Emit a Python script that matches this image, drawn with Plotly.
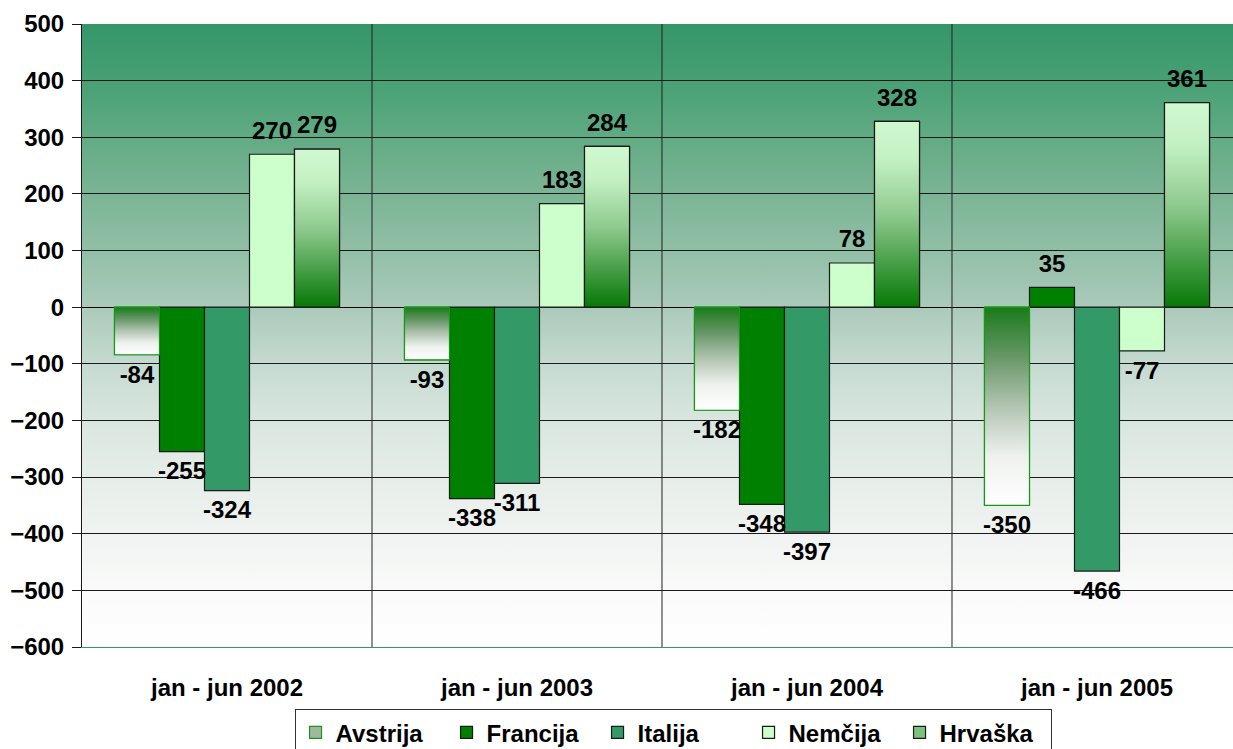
import base64
import plotly.graph_objects as go

# ---------------- data ----------------
categories = ["jan - jun 2002", "jan - jun 2003", "jan - jun 2004", "jan - jun 2005"]
series_names = ["Avstrija", "Francija", "Italija", "Nemčija", "Hrvaška"]
avstrija = [-84, -93, -182, -350]
francija = [-255, -338, -348, 35]
italija = [-324, -311, -397, -466]
nemcija = [270, 183, 78, -77]
hrvaska = [279, 284, 328, 361]
y_ticks = list(range(-600, 501, 100))

# ---------------- styles ----------------
FONT = "Liberation Sans, Arial, sans-serif"
FS = 24
GROUP = 0.776
BW = GROUP / 5
series_values = [avstrija, francija, italija, nemcija, hrvaska]
solid_colors = ["#9fb89f", "#008000", "#339966", "#CCFFCC", "#7cc27c"]
line_colors = ["#179917", "#1a1a1a", "#1a1a1a", "#1a1a1a", "#1a1a1a"]
gradients = {
    0: [[0, "#ffffff"], [0.25, "#eef1ee"], [0.5, "#b2c4b2"], [0.75, "#679767"], [1, "#1a7a1a"]],
    4: [[0, "#067806"], [0.5, "#8fca8f"], [0.8, "#c4f1c4"], [1, "#cff9cf"]],
}

# background gradient (plot area), value -> colour
bg_stops = [(500, "#35966A"), (400, "#47A073"), (300, "#62AB84"), (200, "#7BB495"),
            (100, "#91BFA6"), (0, "#ABCABB"), (-100, "#C5DAD0"), (-200, "#D9E6E0"),
            (-300, "#E6EDE9"), (-400, "#F0F3F1"), (-500, "#F9FAF9"), (-600, "#FFFFFF")]
stops_svg = "".join(
    f'<stop offset="{(500 - v) / 1100:.4f}" stop-color="{c}"/>' for v, c in bg_stops)
svg = ('<svg xmlns="http://www.w3.org/2000/svg" width="100" height="100" preserveAspectRatio="none">'
       '<defs><linearGradient id="g" x1="0" y1="0" x2="0" y2="1">' + stops_svg +
       '</linearGradient></defs><rect width="100" height="100" fill="url(#g)"/></svg>')
bg_uri = "data:image/svg+xml;base64," + base64.b64encode(svg.encode()).decode()

fig = go.Figure()
xs = list(range(len(categories)))

label_traces = []
for k, (name, vals) in enumerate(zip(series_names, series_values)):
    offset = -GROUP / 2 + k * BW
    fig.add_trace(go.Bar(
        x=xs, y=vals, name=name, width=BW, offset=offset,
        marker=dict(color=solid_colors[k], line=dict(color=line_colors[k], width=1.2)),
        legendrank=k + 1, hoverinfo="skip",
    ))
    if k in gradients:
        for i, v in zip(xs, vals):
            x0 = i + offset
            x1 = x0 + BW
            fig.add_trace(go.Scatter(
                x=[x0, x1, x1, x0, x0], y=[0, 0, v, v, 0],
                mode="lines", fill="toself",
                fillgradient=dict(type="vertical", colorscale=gradients[k],
                                  start=min(0, v), stop=max(0, v)),
                line=dict(color=line_colors[k], width=1.2),
                showlegend=False, hoverinfo="skip",
            ))
    # value labels
    label_traces.append(go.Scatter(
        x=[i + offset + BW / 2 for i in xs], y=vals,
        mode="markers+text", marker=dict(size=14, opacity=0),
        text=[str(v) for v in vals],
        textposition=["top center" if v >= 0 else "bottom center" for v in vals],
        textfont=dict(family=FONT, size=FS, color="black", weight="bold"),
        cliponaxis=False, showlegend=False, hoverinfo="skip",
    ))
for t in label_traces:
    fig.add_trace(t)

# category separators
shapes = [dict(type="line", xref="x", yref="paper", x0=i + 0.5, x1=i + 0.5, y0=0, y1=1,
               line=dict(color="#222222", width=1), layer="above")
          for i in range(len(categories) - 1)]

fig.update_layout(
    width=1233, height=749,
    margin=dict(l=82, r=0, t=24, b=102, autoexpand=False),
    paper_bgcolor="white", plot_bgcolor="rgba(0,0,0,0)",
    barmode="overlay",
    images=[dict(source=bg_uri, xref="paper", yref="paper", x=0, y=1, sizex=1, sizey=1,
                 sizing="stretch", layer="below")],
    shapes=shapes,
    font=dict(family=FONT, size=FS, color="black", weight="bold"),
    xaxis=dict(range=[-0.5, 3.469], tickmode="array", tickvals=xs, ticktext=categories,
               showgrid=False, zeroline=False, showline=True, linecolor="#339966",
               linewidth=1, ticks="", ticklabelstandoff=19, automargin=False,
               tickfont=dict(family=FONT, size=FS, color="black", weight="bold")),
    yaxis=dict(range=[-600, 500], tickmode="array", tickvals=y_ticks,
               showgrid=True, gridcolor="#1a1a1a", gridwidth=1,
               zeroline=True, zerolinecolor="#000000", zerolinewidth=1,
               showline=True, linecolor="#1a1a1a", linewidth=1, automargin=False,
               ticks="outside", ticklen=9, tickcolor="#1a1a1a", ticklabelstandoff=3,
               tickfont=dict(family=FONT, size=FS, color="black", weight="bold")),
    legend=dict(orientation="h", x=0.5135, xanchor="center", y=-0.100, yanchor="top",
                bgcolor="white", bordercolor="#333333", borderwidth=1,
                entrywidth=106, itemwidth=30, traceorder="normal",
                font=dict(family=FONT, size=FS, color="black", weight="bold")),
    showlegend=True,
)

fig.write_html("out.html", config={"displayModeBar": False},
               post_script="document.body.style.margin='0';document.body.style.overflow='hidden';")
